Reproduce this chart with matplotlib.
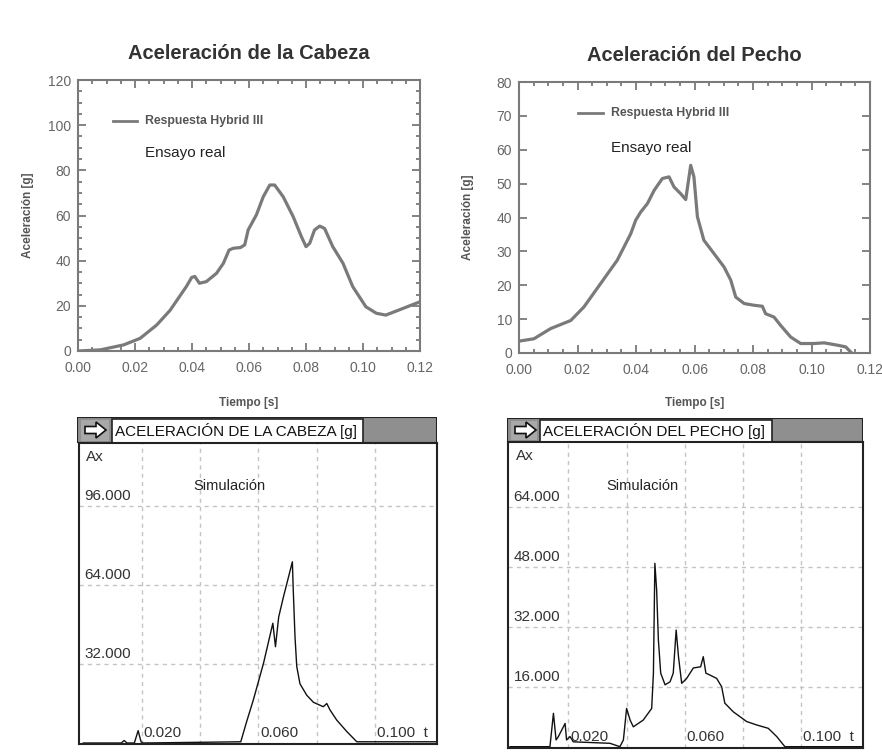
import numpy as np
import matplotlib
matplotlib.use("Agg")
import matplotlib.pyplot as plt
from matplotlib.patches import Rectangle, Polygon
from matplotlib.ticker import MultipleLocator, FormatStrFormatter

plt.rcParams['font.family'] = ['Liberation Sans', 'DejaVu Sans']

# ---- datos ----
# Ensayo real, cabeza
t_cab = [0.0, 0.0078, 0.016, 0.0218, 0.0276, 0.0323, 0.038, 0.0399, 0.041, 0.0426,
         0.045, 0.0486, 0.051, 0.053, 0.0545, 0.057, 0.0585, 0.0597, 0.0626, 0.065,
         0.0673, 0.069, 0.072, 0.0755, 0.0784, 0.080, 0.0813, 0.083, 0.0848, 0.0865,
         0.0894, 0.093, 0.0964, 0.101, 0.1047, 0.108, 0.1127, 0.12]
a_cab = [0.0, 0.5, 2.7, 5.6, 11.5, 18.0, 28.5, 32.6, 33.0, 30.0,
         30.7, 34.4, 38.8, 44.7, 45.5, 45.8, 47.0, 53.6, 60.3, 68.3,
         73.5, 73.5, 68.3, 59.5, 50.6, 46.2, 47.7, 53.6, 55.3, 54.3,
         46.2, 38.8, 28.5, 19.6, 16.7, 15.9, 18.2, 21.8]

# Ensayo real, pecho
t_pec = [0.0, 0.0051, 0.0108, 0.0177, 0.0222, 0.0279, 0.0336, 0.0382, 0.0399, 0.0416,
         0.0439, 0.0462, 0.049, 0.0513, 0.053, 0.0553, 0.057, 0.0587, 0.0598, 0.061,
         0.0632, 0.0667, 0.0701, 0.0724, 0.0741, 0.077, 0.0803, 0.0832, 0.0843, 0.0872,
         0.0894, 0.0929, 0.0963, 0.1009, 0.1043, 0.1089, 0.1117, 0.1134]
a_pec = [3.5, 4.2, 7.2, 9.6, 13.6, 20.5, 27.4, 35.2, 39.2, 41.6,
         44.1, 48.0, 51.5, 52.0, 49.0, 47.0, 45.3, 55.4, 52.0, 40.2,
         33.3, 29.3, 25.4, 21.5, 16.5, 14.6, 14.1, 13.8, 11.6, 10.6,
         8.2, 4.7, 2.8, 2.8, 3.0, 2.3, 1.8, 0.3]

# Simulacion, cabeza
ts_cab = [0.0, 0.013, 0.014, 0.015, 0.0175, 0.0188, 0.0198, 0.0205, 0.054, 0.056,
          0.0583, 0.0618, 0.065, 0.0659, 0.067, 0.0686, 0.0717, 0.072, 0.0726, 0.0732,
          0.0743, 0.0766, 0.0789, 0.0823, 0.0835, 0.0846, 0.0869, 0.0904, 0.0938, 0.121]
as_cab = [0.0, 0.0, 1.0, 0.0, 0.0, 5.0, 0.5, 0.0, 0.5, 8.6,
          17.4, 32.3, 48.5, 39.0, 51.0, 59.0, 73.4, 62.0, 43.0, 31.0,
          24.0, 19.4, 16.5, 14.7, 16.0, 13.4, 9.3, 4.6, 0.5, 0.5]

# Simulacion, pecho
ts_pec = [0.0, 0.0137, 0.0149, 0.0158, 0.0166, 0.0189, 0.0194, 0.0206, 0.0217, 0.0343,
          0.0377, 0.0389, 0.040, 0.0412, 0.0423, 0.0457, 0.0486, 0.0492, 0.0497, 0.0503,
          0.0509, 0.0517, 0.0532, 0.0549, 0.056, 0.057, 0.0578, 0.0589, 0.0606, 0.0629,
          0.0654, 0.0663, 0.0672, 0.0686, 0.0709, 0.0726, 0.0737, 0.0766, 0.0812, 0.0846,
          0.0886, 0.0915, 0.0943, 0.121]
as_pec = [0.0, 0.0, 8.9, 1.8, 2.7, 6.2, 1.8, 2.7, 1.3, 0.9,
          0.0, 1.8, 10.2, 7.1, 5.3, 7.1, 10.2, 19.6, 48.9, 41.8,
          28.5, 19.6, 16.5, 17.3, 19.6, 31.1, 24.0, 16.9, 18.2, 21.0,
          21.3, 24.0, 19.6, 19.1, 18.2, 16.0, 11.6, 9.3, 6.7, 5.8,
          4.9, 2.7, 0.0, 0.0]

sim_xt = [0.02, 0.04, 0.06, 0.08, 0.10]
sim_xlab = {0.02: '0.020', 0.06: '0.060', 0.10: '0.100  t'}
cab_yt = [32, 64, 96]
pec_yt = [16, 32, 48, 64]

W, H = 882, 753
fig = plt.figure(figsize=(W / 100, H / 100), dpi=100)


def px(l, t, r, b):
    return [l / W, 1 - b / H, (r - l) / W, (b - t) / H]


gris = '#7a7a7a'


def real(rect, t, a, ymax, ymaj, ymin, titulo, yleg, yens):
    ax = fig.add_axes(rect)
    ax.plot(t, a, color=gris, lw=2.3, solid_joinstyle='round')
    ax.set_xlim(0, 0.12)
    ax.set_ylim(0, ymax)
    ax.xaxis.set_major_locator(MultipleLocator(0.02))
    ax.xaxis.set_minor_locator(MultipleLocator(0.005))
    ax.xaxis.set_major_formatter(FormatStrFormatter('%.2f'))
    ax.yaxis.set_major_locator(MultipleLocator(ymaj))
    if ymin:
        ax.yaxis.set_minor_locator(MultipleLocator(ymin))
    ax.tick_params(which='both', direction='in', top=True, right=True,
                   colors=gris, labelcolor='#666666', labelsize=10, width=1.3)
    ax.tick_params(which='major', length=6, pad=5)
    ax.tick_params(which='minor', length=3)
    ax.tick_params(axis='x', pad=7)
    for s in ax.spines.values():
        s.set_color(gris)
        s.set_linewidth(1.5)
    ax.set_title(titulo, fontsize=14.5, fontweight='bold', color='#333333', pad=15)
    ax.set_xlabel('Tiempo [s]', fontsize=8.5, fontweight='bold', color='#555555')
    ax.set_ylabel('Aceleración [g]', fontsize=8.5, fontweight='bold', color='#555555')
    ax.plot([yleg[0], yleg[1]], [yleg[2], yleg[2]], color=gris, lw=2)
    ax.text(yleg[3], yleg[2], 'Respuesta Hybrid III', fontsize=8.8, fontweight='bold',
            color='#555555', va='center')
    ax.text(yleg[3], yens, 'Ensayo real', fontsize=11, color='#222222', va='center')
    return ax


ax1 = real(px(78, 80, 420, 351), t_cab, a_cab, 120, 20, 5,
           'Aceleración de la Cabeza', (0.0123, 0.0207, 101.8, 0.0235), 87.7)
ax1.yaxis.set_label_coords(-0.13, 0.5)
ax1.xaxis.set_label_coords(0.5, -0.17)

ax2 = real(px(519, 82, 870, 353), t_pec, a_pec, 80, 10, None,
           'Aceleración del Pecho', (0.0202, 0.0287, 70.8, 0.0315), 60.5)
ax2.yaxis.set_label_coords(-0.128, 0.5)
ax2.xaxis.set_label_coords(0.5, -0.162)


def cabecera(l, t, r, b, bl, br, texto):
    ah = fig.add_axes(px(l, t, r, b))
    w, h = r - l, b - t
    ah.set_xlim(0, w)
    ah.set_ylim(0, h)
    ah.axis('off')
    ah.add_patch(Rectangle((0, 0), w, h, fc='#8f8f8f', ec='#222222', lw=1.5))
    ah.add_patch(Rectangle((bl - l, 0), br - bl, h - 2, fc='white', ec='#222222', lw=1.2))
    ah.add_patch(Rectangle((4, 2), bl - l - 7, h - 5, fc='#a8a8a8', ec='none'))
    cy = h / 2
    ah.add_patch(Polygon([(8, cy - 3.5), (19, cy - 3.5), (19, cy - 8), (29, cy),
                          (19, cy + 8), (19, cy + 3.5), (8, cy + 3.5)],
                         closed=True, fc='white', ec='#111111', lw=1.2))
    ah.text(bl - l + 3, cy - 1, texto, fontsize=11, color='#111111',
            va='center', ha='left')


def simul(rect, t, a, xlim, ylim, yt, ax_x, sim_pos):
    ax = fig.add_axes(rect)
    ax.plot(t, a, color='#111111', lw=1.0)
    ax.set_xlim(*xlim)
    ax.set_ylim(*ylim)
    ax.set_xticks(sim_xt)
    ax.set_yticks(yt)
    ax.tick_params(which='both', length=0, labelbottom=False, labelleft=False)
    ax.grid(True, color='#c4c4c4', ls=(0, (3, 3)), lw=1)
    for s in ax.spines.values():
        s.set_color('#222222')
        s.set_linewidth(1.5)
    ax.text(ax_x, 0.953, 'Ax', transform=ax.transAxes, fontsize=11,
            color='#333333', ha='center', va='center')
    ax.text(sim_pos[0], sim_pos[1], 'Simulación', transform=ax.transAxes,
            fontsize=10.5, color='#222222', ha='center', va='center')
    tr = ax.get_yaxis_transform()
    for v in yt:
        ax.annotate('%.3f' % v, (0.016, v), xycoords=tr, xytext=(0, 2),
                    textcoords='offset points', fontsize=11, color='#333333',
                    ha='left', va='bottom')
    trx = ax.get_xaxis_transform()
    for v, lab in sim_xlab.items():
        ax.text(v + 0.0006, 0.012, lab, transform=trx, fontsize=11,
                color='#333333', ha='left', va='bottom')
    return ax


cabecera(77, 417, 437, 443, 112, 363, 'ACELERACIÓN DE LA CABEZA [g]')
simul(px(79, 443, 437, 744), ts_cab, as_cab, (-0.00148, 0.1213), (-0.4, 121.5),
      cab_yt, 0.045, (0.42, 0.857))

cabecera(507, 418, 863, 442, 540, 772, 'ACELERACIÓN DEL PECHO [g]')
simul(px(508, 442, 863, 748), ts_pec, as_pec, (-0.00069, 0.1211), (-0.35, 81.25),
      pec_yt, 0.048, (0.38, 0.856))

fig.savefig('out.png', dpi=100, facecolor='white')
